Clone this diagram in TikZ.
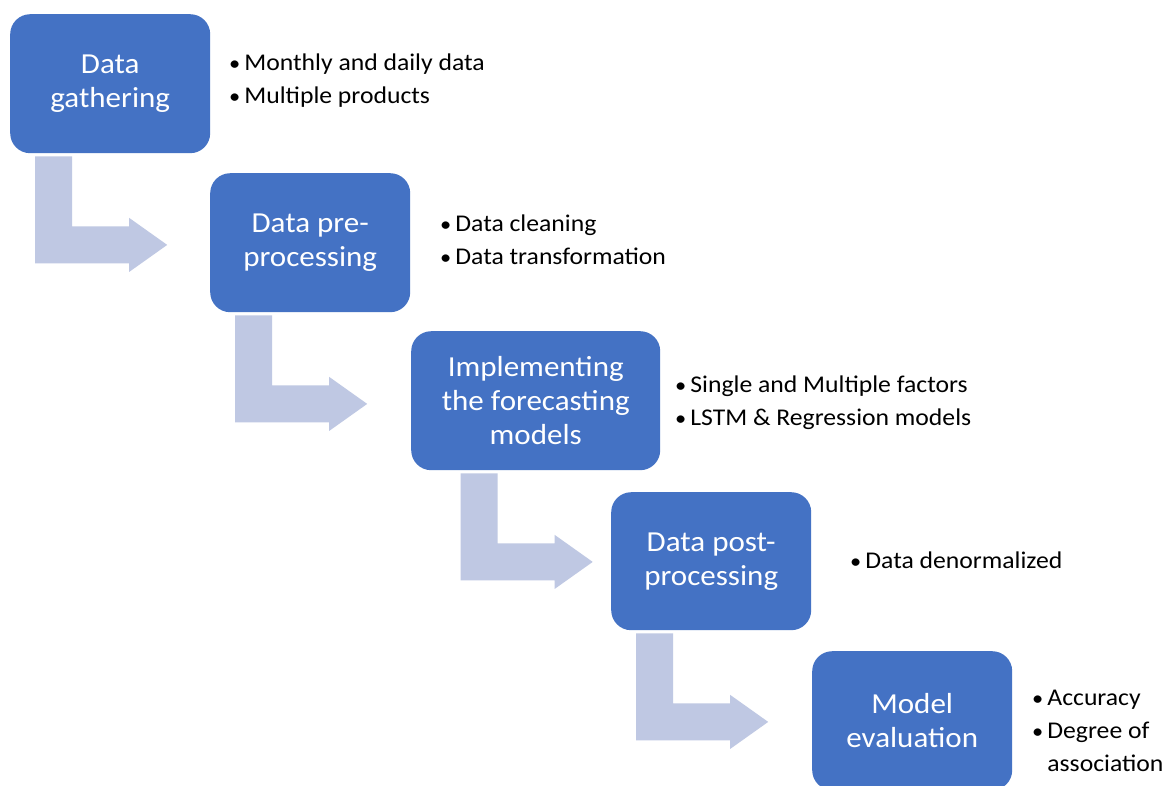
\documentclass[tikz,border=0pt]{standalone}
\usepackage{fontspec}
\setmainfont{Carlito}[FakeStretch=1.07]
\usetikzlibrary{calc}
\definecolor{boxblue}{HTML}{4472C4}
\definecolor{arrowblue}{HTML}{BFC8E3}
\newcommand{\bentarrow}[1]{%
  \fill[arrowblue] ([shift={(-75,-3)}]#1.south) -- ++(37,0) -- ++(0,-70) -- ++(57,0) -- ++(0,8.5)
    -- ++(38,-27) -- ++(-38,-27) -- ++(0,8.5) -- ++(-94,0) -- cycle;}
\newcommand{\bul}{{\fontsize{21}{33}\selectfont•}}
\begin{document}
\begin{tikzpicture}[x=1pt,y=1pt,
  stage/.style={fill=boxblue, draw=none, rounded corners=20pt, text=white, align=center,
    font=\fontsize{29}{34}\selectfont, minimum height=139pt, inner sep=0pt, anchor=north west},
  bullets/.style={anchor=base west, inner sep=0pt, font=\fontsize{24}{33}\selectfont, text=black}]
\useasboundingbox (0,0) rectangle (1169,-785);
\clip (0,0) rectangle (1169,-785);
\fill[white] (0,0) rectangle (1169,-785);

\node[stage, minimum width=200pt] (b1) at (10,-14) {Data\\gathering};
\node[stage, minimum width=200pt] (b2) at (210,-173) {Data pre-\\processing};
\node[stage, minimum width=249pt] (b3) at (411,-331) {Implementing\\the forecasting\\models};
\node[stage, minimum width=200pt, minimum height=138pt] (b4) at (611,-492) {Data post-\\processing};
\node[stage, minimum width=200pt] (b5) at (812,-651) {Model\\evaluation};

\bentarrow{b1}
\bentarrow{b2}
\bentarrow{b3}
\bentarrow{b4}

\node[bullets] (t1) at (229,-70) {\begin{tabular}[t]{@{}l@{\hspace{4pt}}l@{}}\bul&Monthly and daily data\\\bul&Multiple products\end{tabular}};
\node[bullets] (t2) at (440,-231) {\begin{tabular}[t]{@{}l@{\hspace{4pt}}l@{}}\bul&Data cleaning\\\bul&Data transformation\end{tabular}};
\node[bullets] (t3) at (675,-392) {\begin{tabular}[t]{@{}l@{\hspace{4pt}}l@{}}\bul&Single and Multiple factors\\\bul&LSTM \& Regression models\end{tabular}};
\node[bullets] (t4) at (850,-568) {\begin{tabular}[t]{@{}l@{\hspace{4pt}}l@{}}\bul&Data denormalized\end{tabular}};
\node[bullets] (t5) at (1032,-705) {\begin{tabular}[t]{@{}l@{\hspace{4pt}}l@{}}\bul&Accuracy\\\bul&Degree of\\&association\end{tabular}};
\end{tikzpicture}
\end{document}
